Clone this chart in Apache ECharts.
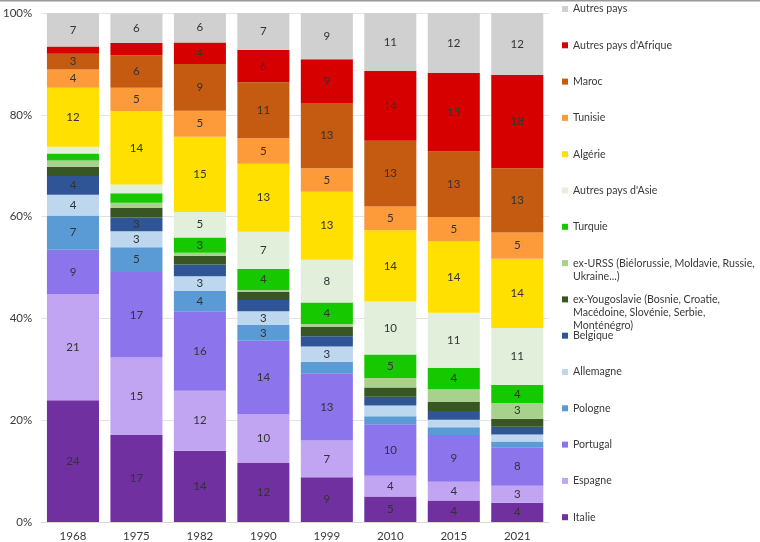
<!DOCTYPE html>
<html>
<head>
<meta charset="utf-8">
<script src="https://cdn.jsdelivr.net/npm/echarts@6/dist/echarts.min.js"></script>
<style>
  html, body { margin: 0; padding: 0; background: #fff; }
  #chart { width: 760px; height: 542px; }
</style>
</head>
<body>
<div id="chart"></div>
<script>
// years
const categories = ['1968', '1975', '1982', '1990', '1999', '2010', '2015', '2021']

// shares in %, stacked from bottom (Italie) to top (Autres pays)
const italie = [23.9, 17.1, 14.0, 11.6, 8.8, 5.0, 4.2, 3.8]
const espagne = [20.9, 15.2, 11.8, 9.6, 7.2, 4.1, 3.7, 3.3]
const portugal = [8.7, 16.8, 15.6, 14.4, 13.2, 10.1, 9.2, 7.6]
const pologne = [6.7, 4.9, 4.0, 3.1, 2.3, 1.6, 1.5, 1.1]
const allemagne = [4.1, 3.1, 2.9, 2.7, 3.0, 2.1, 1.5, 1.4]
const belgique = [3.7, 2.7, 2.3, 2.2, 2.0, 1.7, 1.7, 1.5]
const exYougoslavie = [1.8, 1.9, 1.7, 1.6, 1.8, 1.8, 1.8, 1.6]
const exUrss = [1.2, 1.0, 0.6, 0.4, 0.6, 1.9, 2.5, 3.1]
const turquie = [1.4, 1.9, 3.0, 4.1, 4.2, 4.6, 4.2, 3.5]
const autresAsie = [1.3, 1.7, 5.0, 7.3, 8.4, 10.4, 10.8, 11.2]
const algerie = [11.6, 14.4, 14.8, 13.4, 13.4, 14.0, 14.0, 13.6]
const tunisie = [3.6, 4.6, 5.1, 5.0, 4.6, 4.7, 4.8, 5.2]
const maroc = [3.1, 6.4, 9.2, 11.0, 12.8, 12.9, 12.9, 12.6]
const autresAfrique = [1.4, 2.4, 4.2, 6.4, 8.6, 13.7, 15.4, 18.3]
const autresPays = [6.6, 5.8, 5.8, 7.2, 9.1, 11.4, 11.8, 12.2]

const yTicks = [0, 20, 40, 60, 80, 100]

const seriesList = [
  { name: 'Italie', data: italie, color: '#7030a0' },
  { name: 'Espagne', data: espagne, color: '#c1a4f2' },
  { name: 'Portugal', data: portugal, color: '#8c74ec' },
  { name: 'Pologne', data: pologne, color: '#5b9bd5' },
  { name: 'Allemagne', data: allemagne, color: '#bdd7ee' },
  { name: 'Belgique', data: belgique, color: '#2f5597' },
  { name: 'ex-Yougoslavie (Bosnie, Croatie, Macédoine, Slovénie, Serbie, Monténégro)', data: exYougoslavie, color: '#375623' },
  { name: 'ex-URSS (Biélorussie, Moldavie, Russie, Ukraine...)', data: exUrss, color: '#a9d18e' },
  { name: 'Turquie', data: turquie, color: '#16c800' },
  { name: "Autres pays d'Asie", data: autresAsie, color: '#e2efda' },
  { name: 'Algérie', data: algerie, color: '#ffe000' },
  { name: 'Tunisie', data: tunisie, color: '#fd9a3a' },
  { name: 'Maroc', data: maroc, color: '#c55a11' },
  { name: "Autres pays d'Afrique", data: autresAfrique, color: '#d60000' },
  { name: 'Autres pays', data: autresPays, color: '#d0d0d0' }
]

// legend text as wrapped in the original
const legendLines = {
  'ex-Yougoslavie (Bosnie, Croatie, Macédoine, Slovénie, Serbie, Monténégro)':
    ['ex-Yougoslavie (Bosnie, Croatie,', 'Macédoine, Slovénie, Serbie,', 'Monténégro)'],
  'ex-URSS (Biélorussie, Moldavie, Russie, Ukraine...)':
    ['ex-URSS (Biélorussie, Moldavie, Russie,', 'Ukraine...)']
}

const font = 'Lato, "Noto Sans", sans-serif'
const textColor = '#3a3a3a'
const legendSize = 10.6
const lineH = 13
const legendLeft = 562
const legendStep = 36.3

// one legend block per item so the spacing stays even like the original
const legendOrder = seriesList.slice().reverse()
const legends = []
const extraLines = []
legendOrder.forEach((s, i) => {
  const cy = 9 + i * legendStep
  const lines = legendLines[s.name] || [s.name]
  legends.push({
    data: [s.name],
    orient: 'vertical',
    left: legendLeft,
    top: cy - lineH / 2,
    padding: 0,
    icon: 'rect',
    itemWidth: 6,
    itemHeight: 6,
    selectedMode: false,
    formatter: name => (legendLines[name] ? legendLines[name][0] : name),
    textStyle: { fontFamily: font, fontSize: legendSize, color: textColor, lineHeight: lineH }
  })
  // continuation lines go under the first one, as in the original
  lines.slice(1).forEach((line, k) => {
    extraLines.push({
      type: 'text',
      x: legendLeft + 6 + 5,
      y: cy + (k + 1) * lineH,
      style: {
        text: line,
        fontFamily: font,
        fontSize: legendSize,
        fill: textColor,
        verticalAlign: 'middle'
      }
    })
  })
})

const chart = echarts.init(document.getElementById('chart'))
chart.setOption({
  animation: false,
  textStyle: { fontFamily: font },
  grid: { left: 38, right: 211, top: 13, bottom: 19, containLabel: false },
  legend: legends,
  graphic: [
    { type: 'rect', shape: { x: 0, y: 0, width: 760, height: 1.5 }, style: { fill: '#9a9a9a' } }
  ].concat(extraLines),
  xAxis: {
    type: 'category',
    data: categories,
    axisLine: { lineStyle: { color: '#d9d9d9' } },
    axisTick: { show: false },
    axisLabel: { color: textColor, fontSize: 11.5, margin: 8 }
  },
  yAxis: {
    type: 'value',
    min: yTicks[0],
    max: yTicks[yTicks.length - 1],
    interval: yTicks[1] - yTicks[0],
    axisLabel: { formatter: '{value}%', color: textColor, fontSize: 11.5, margin: 9 },
    splitLine: { lineStyle: { color: '#e3e3e3' } }
  },
  series: seriesList.map(s => ({
    name: s.name,
    type: 'bar',
    stack: 'total',
    barCategoryGap: '18%',
    data: s.data,
    itemStyle: { color: s.color },
    label: {
      show: true,
      position: 'inside',
      color: '#333',
      fontSize: 11.5,
      formatter: p => (p.value >= 2.6 ? Math.round(p.value) : '')
    }
  }))
})
</script>
</body>
</html>
